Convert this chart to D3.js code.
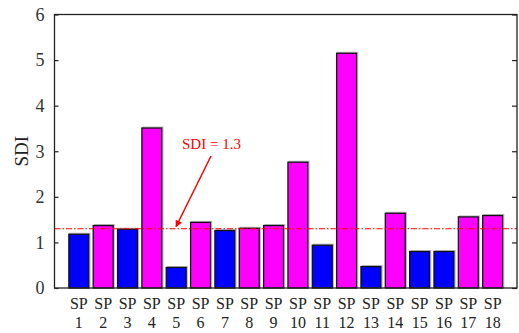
<!DOCTYPE html>
<html>
<head>
<style>
body { margin: 0; background: #fff; }
text { font-family: "Liberation Serif", "Times New Roman", serif; }
</style>
</head>
<body>
<script src="https://cdn.jsdelivr.net/npm/d3@7"></script>
<script>
// data
var samples = ["1","2","3","4","5","6","7","8","9","10","11","12","13","14","15","16","17","18"];
var sdi = [1.18, 1.37, 1.29, 3.51, 0.45, 1.44, 1.26, 1.31, 1.37, 2.76, 0.94, 5.15, 0.47, 1.64, 0.80, 0.80, 1.56, 1.59];
var yTicks = [0, 1, 2, 3, 4, 5, 6];
var threshold = 1.3;

var W = 519, H = 333;
var m = {left: 54.5, right: 517, top: 14.5, bottom: 288};

var svg = d3.select("body").append("svg")
    .attr("width", W).attr("height", H);

// bars sit at 1..18 on a 0..19 axis
var x = d3.scaleLinear().domain([0, samples.length + 1]).range([m.left, m.right]);
var y = d3.scaleLinear().domain([0, 6]).range([m.bottom, m.top]);
var bw = (x(1) - x(0)) * 0.82;

// bars (faint grey shadow then the bar itself)
svg.selectAll(".shadow").data(sdi).enter().append("rect")
    .attr("class", "shadow")
    .attr("x", function(d, i) { return x(i + 1) - bw / 2 + 1.2; })
    .attr("y", function(d) { return y(d) - 1; })
    .attr("width", bw)
    .attr("height", function(d) { return y(0) - y(d) + 1; })
    .style("fill", "none").style("stroke", "#bbb").style("stroke-width", 1);

svg.selectAll(".bar").data(sdi).enter().append("rect")
    .attr("class", "bar")
    .attr("x", function(d, i) { return x(i + 1) - bw / 2; })
    .attr("y", function(d) { return y(d); })
    .attr("width", bw)
    .attr("height", function(d) { return y(0) - y(d); })
    .style("fill", function(d) { return d < threshold ? "#0000ff" : "#ff00ff"; })
    .style("stroke", "#111").style("stroke-width", 1.3);

// threshold line
svg.append("line")
    .attr("x1", m.left).attr("x2", m.right)
    .attr("y1", y(threshold)).attr("y2", y(threshold))
    .style("stroke", "#ff0000").style("stroke-width", 1.2)
    .style("stroke-dasharray", "6,2,1.5,2");

// frame
svg.append("rect")
    .attr("x", m.left).attr("y", m.top)
    .attr("width", m.right - m.left).attr("height", m.bottom - m.top)
    .style("fill", "none").style("stroke", "#222").style("stroke-width", 1.3);

// y axis, ticks inward on both sides
var yAxis = d3.axisLeft(y).tickValues(yTicks).tickSize(-4).tickPadding(10)
    .tickFormat(d3.format("d"));
var gy = svg.append("g").attr("transform", "translate(" + m.left + ",0)").call(yAxis)
    .attr("font-family", null).attr("font-size", null);
gy.select(".domain").remove();
gy.selectAll("line").style("stroke", "#222").style("stroke-width", 1.2);
gy.selectAll("text")
    .style("font-family", "'Liberation Serif', serif")
    .style("font-size", "18px").style("fill", "#333");

var gr = svg.append("g").attr("transform", "translate(" + m.right + ",0)")
    .call(d3.axisRight(y).tickValues(yTicks).tickSize(-5).tickFormat(""));
gr.select(".domain").remove();
gr.selectAll("line").style("stroke", "#222").style("stroke-width", 1.2);

// x labels, two lines
var xl = svg.selectAll(".xl").data(samples).enter().append("text")
    .attr("class", "xl")
    .attr("text-anchor", "middle")
    .style("font-size", "16px").style("fill", "#222");
xl.append("tspan").attr("x", function(d, i) { return x(i + 1); }).attr("y", 309).text("SP");
xl.append("tspan").attr("x", function(d, i) { return x(i + 1); }).attr("y", 328).text(function(d) { return d; });

// y label
svg.append("text")
    .attr("transform", "translate(28," + y(3) + ") rotate(-90)")
    .attr("text-anchor", "middle")
    .style("font-size", "19px").style("fill", "#222")
    .text("SDI");

// annotation
svg.append("defs").append("marker")
    .attr("id", "ah").attr("viewBox", "0 0 10 10")
    .attr("refX", 9).attr("refY", 5)
    .attr("markerWidth", 7).attr("markerHeight", 7)
    .attr("markerUnits", "userSpaceOnUse")
    .attr("orient", "auto")
  .append("path").attr("d", "M0,0 L10,5 L0,10 z").style("fill", "#ff0000");

svg.append("line")
    .attr("x1", 211).attr("y1", 156)
    .attr("x2", 176).attr("y2", y(threshold) - 2)
    .style("stroke", "#ff0000").style("stroke-width", 1.5)
    .attr("marker-end", "url(#ah)");

svg.append("text")
    .attr("x", 182).attr("y", 149)
    .style("font-size", "15px").style("fill", "#ff0000")
    .text("SDI = " + threshold);
</script>
</body>
</html>
